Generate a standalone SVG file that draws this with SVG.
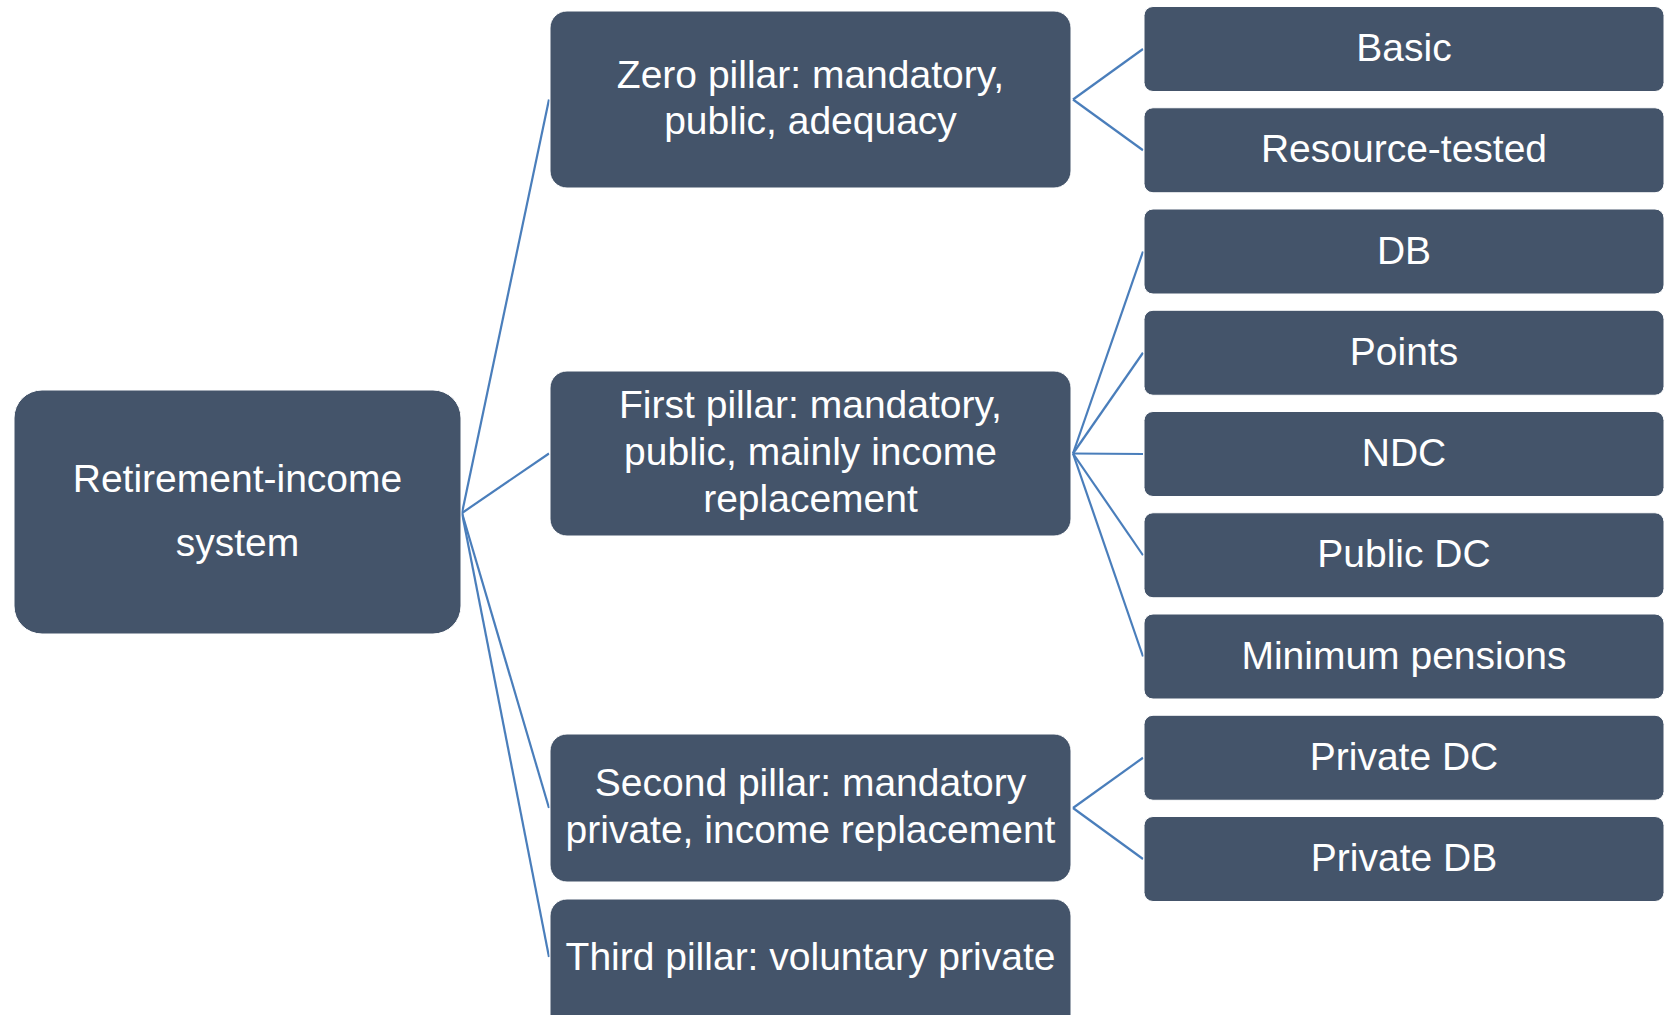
<svg xmlns="http://www.w3.org/2000/svg" width="1668" height="1015" viewBox="0 0 1668 1015">
<style>
.box{fill:#44546A;stroke:#ffffff;stroke-width:1}
.t{font-family:"Liberation Sans",Arial,sans-serif;font-size:39px;fill:#ffffff;text-anchor:middle}
.c{stroke:#4A7EBB;stroke-width:2.2;fill:none}
</style>
<rect width="1668" height="1015" fill="#ffffff"/>
<g id="connectors">
<line class="c" x1="462" y1="513" x2="549" y2="99.5"/>
<line class="c" x1="462" y1="513" x2="549" y2="453.5"/>
<line class="c" x1="462" y1="513" x2="549" y2="808"/>
<line class="c" x1="462" y1="513" x2="549" y2="957"/>
<line class="c" x1="1073" y1="99.5" x2="1143" y2="49"/>
<line class="c" x1="1073" y1="99.5" x2="1143" y2="150.25"/>
<line class="c" x1="1073" y1="453.5" x2="1143" y2="251.5"/>
<line class="c" x1="1073" y1="453.5" x2="1143" y2="352.75"/>
<line class="c" x1="1073" y1="453.5" x2="1143" y2="454"/>
<line class="c" x1="1073" y1="453.5" x2="1143" y2="555.25"/>
<line class="c" x1="1073" y1="453.5" x2="1143" y2="656.5"/>
<line class="c" x1="1073" y1="808" x2="1143" y2="757.75"/>
<line class="c" x1="1073" y1="808" x2="1143" y2="859"/>
</g>
<g id="root">
<rect class="box" x="14" y="390" width="447" height="244" rx="28"/>
<text class="t" x="237.5" y="492">Retirement-income</text>
<text class="t" x="237.5" y="556">system</text>
</g>
<g id="zero-pillar">
<rect class="box" x="550" y="11" width="521" height="177" rx="17"/>
<text class="t" x="810.5" y="87.5">Zero pillar: mandatory,</text>
<text class="t" x="810.5" y="134">public, adequacy</text>
</g>
<g id="first-pillar">
<rect class="box" x="550" y="371" width="521" height="165" rx="17"/>
<text class="t" x="810.5" y="418">First pillar: mandatory,</text>
<text class="t" x="810.5" y="465">public, mainly income</text>
<text class="t" x="810.5" y="512">replacement</text>
</g>
<g id="second-pillar">
<rect class="box" x="550" y="734" width="521" height="148" rx="17"/>
<text class="t" x="810.5" y="796">Second pillar: mandatory</text>
<text class="t" x="810.5" y="843">private, income replacement</text>
</g>
<g id="third-pillar">
<rect class="box" x="550" y="899" width="521" height="135" rx="17"/>
<text class="t" x="810.5" y="970">Third pillar: voluntary private</text>
</g>
<g id="basic">
<rect class="box" x="1144" y="6.5" width="520" height="85" rx="9"/>
<text class="t" x="1404" y="61">Basic</text>
</g>
<g id="resource-tested">
<rect class="box" x="1144" y="107.75" width="520" height="85" rx="9"/>
<text class="t" x="1404" y="162.25">Resource-tested</text>
</g>
<g id="db">
<rect class="box" x="1144" y="209" width="520" height="85" rx="9"/>
<text class="t" x="1404" y="263.5">DB</text>
</g>
<g id="points">
<rect class="box" x="1144" y="310.25" width="520" height="85" rx="9"/>
<text class="t" x="1404" y="364.75">Points</text>
</g>
<g id="ndc">
<rect class="box" x="1144" y="411.5" width="520" height="85" rx="9"/>
<text class="t" x="1404" y="466">NDC</text>
</g>
<g id="public-dc">
<rect class="box" x="1144" y="512.75" width="520" height="85" rx="9"/>
<text class="t" x="1404" y="567.25">Public DC</text>
</g>
<g id="minimum-pensions">
<rect class="box" x="1144" y="614" width="520" height="85" rx="9"/>
<text class="t" x="1404" y="668.5">Minimum pensions</text>
</g>
<g id="private-dc">
<rect class="box" x="1144" y="715.25" width="520" height="85" rx="9"/>
<text class="t" x="1404" y="769.75">Private DC</text>
</g>
<g id="private-db">
<rect class="box" x="1144" y="816.5" width="520" height="85" rx="9"/>
<text class="t" x="1404" y="871">Private DB</text>
</g>
</svg>
